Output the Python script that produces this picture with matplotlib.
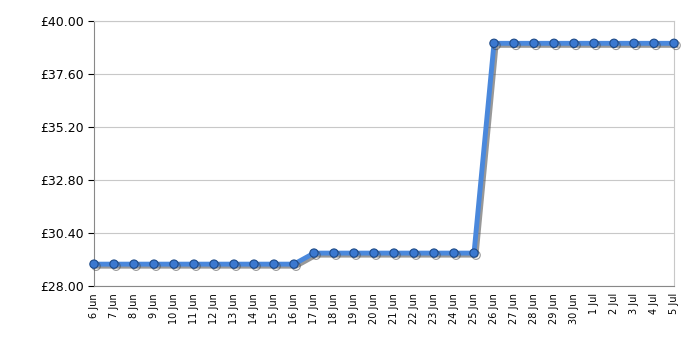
import matplotlib
matplotlib.use('Agg')
import matplotlib.pyplot as plt
import matplotlib.patheffects as pe
import numpy as np

dates = ['6 Jun', '7 Jun', '8 Jun', '9 Jun', '10 Jun', '11 Jun', '12 Jun', '13 Jun',
         '14 Jun', '15 Jun', '16 Jun', '17 Jun', '18 Jun', '19 Jun', '20 Jun', '21 Jun',
         '22 Jun', '23 Jun', '24 Jun', '25 Jun', '26 Jun', '27 Jun', '28 Jun', '29 Jun',
         '30 Jun', '1 Jul', '2 Jul', '3 Jul', '4 Jul', '5 Jul']
prices = [28.99] * 11 + [29.49] * 9 + [38.99] * 10
y_ticks = [28.00, 30.40, 32.80, 35.20, 37.60, 40.00]

x = np.arange(len(dates))

fig = plt.figure(figsize=(7, 3.5), dpi=100)
ax = fig.add_axes([94/700, 64/350, 580/700, 265/350])

ax.plot(x, prices, color='#4a88dc', lw=3.5, solid_joinstyle='round',
        marker='o', ms=6, mfc='#3a78d0', mec='#1d4a88', mew=0.8, clip_on=False,
        path_effects=[pe.SimpleLineShadow(offset=(1.5, -1.5), shadow_color='#444444', alpha=0.55),
                      pe.Normal()], zorder=3)

ax.set_xlim(0, len(dates) - 1)
ax.set_ylim(28, 40)
ax.set_yticks(y_ticks)
ax.set_yticklabels(['£%.2f' % v for v in y_ticks], fontsize=9)

ax.set_xticks(x)
ax.set_xticklabels(dates, rotation=90, fontsize=7)
ax.set_xticks(x[::3], minor=True)
ax.tick_params(axis='x', which='major', length=0, pad=5)
ax.tick_params(axis='x', which='minor', length=4, color='black')
ax.tick_params(axis='y', length=4, color='black')

ax.grid(True, axis='y', which='major', color='#c8c8c8', lw=0.8)
ax.grid(True, axis='x', which='minor', color='#c8c8c8', lw=0.8)
ax.set_axisbelow(True)

for s in ['left', 'bottom']:
    ax.spines[s].set_color('#888888')
for s in ['top', 'right']:
    ax.spines[s].set_color('#c8c8c8')

fig.savefig('out.png')
